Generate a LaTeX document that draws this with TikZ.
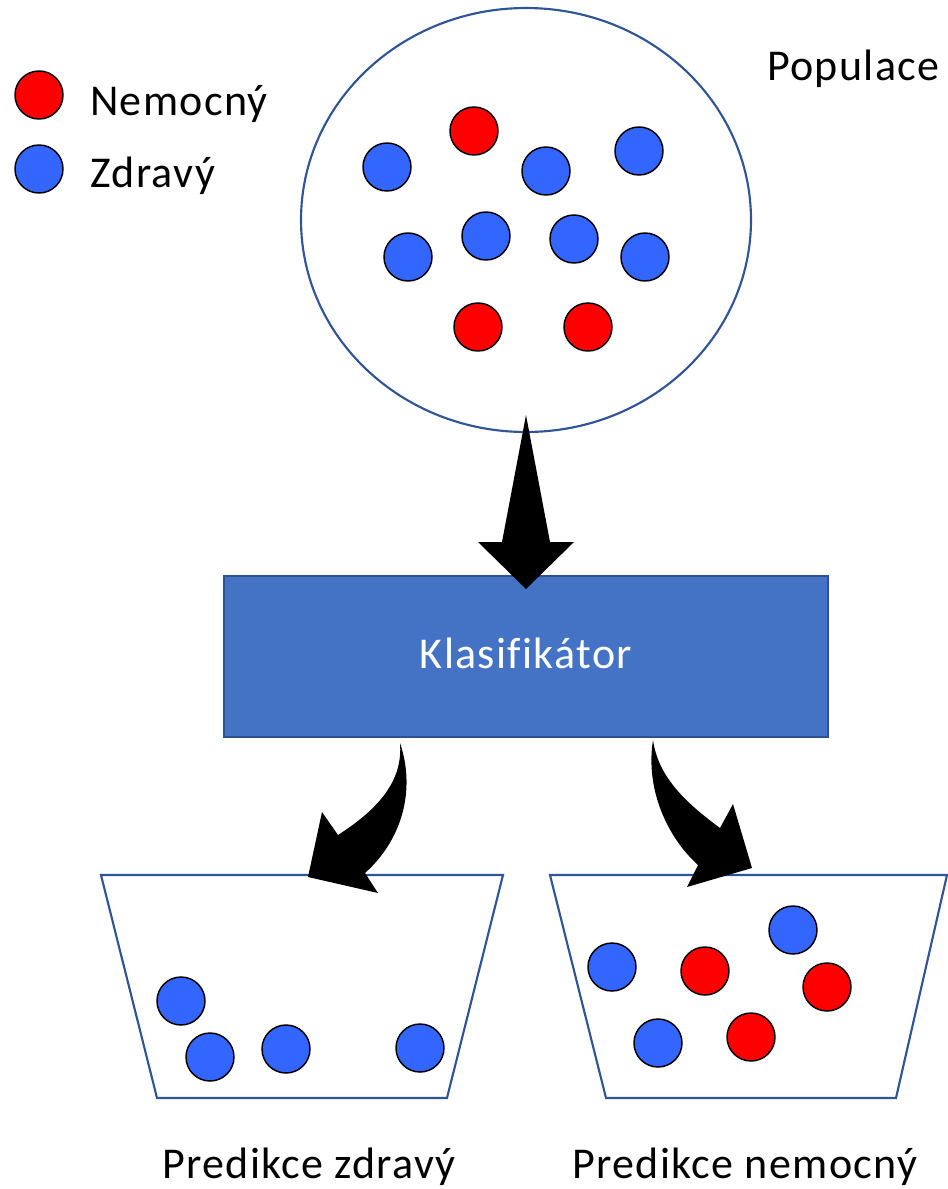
\documentclass[tikz,border=0pt]{standalone}
\usepackage{fontspec}
\setmainfont{Carlito}[LetterSpace=3,Ligatures=NoCommon]
\usetikzlibrary{shapes.geometric}
\begin{document}
\begin{tikzpicture}[x=0.75pt,y=-0.75pt,
  ball/.style={circle,draw=black,line width=1.1pt,minimum size=36pt,inner sep=0pt},
  sick/.style={ball,fill=sickred},
  well/.style={ball,fill=wellblue},
  label/.style={inner sep=0pt,font=\fontsize{33}{39}\selectfont},
  outline/.style={draw=edgeblue,line width=1.6pt},
  bigarrow/.style={fill=black,draw=none}]
\definecolor{sickred}{HTML}{FF0000}
\definecolor{wellblue}{HTML}{3366FF}
\definecolor{edgeblue}{HTML}{2F5597}
\definecolor{boxblue}{HTML}{4472C4}
\definecolor{boxedge}{HTML}{2F528F}
\useasboundingbox (0,0) rectangle (948,1189);

% legend
\node[sick] (legsick) at (39,95) {};
\node[well] (legwell) at (39,169) {};
\node[label,anchor=base west] (legsicktxt) at (90,115) {Nemocný};
\node[label,anchor=base west] (legwelltxt) at (90,187) {Zdravý};

% population
\node[outline,ellipse,minimum width=337.5pt,minimum height=318pt,inner sep=0pt] (pop) at (526,220) {};
\node[label,anchor=base west] (poptxt) at (767,80) {Populace};
\node[well] (p1) at (387,167) {};
\node[sick] (p2) at (474,131) {};
\node[well] (p3) at (546,171) {};
\node[well] (p4) at (639,151) {};
\node[well] (p5) at (408,257) {};
\node[well] (p6) at (486,236) {};
\node[well] (p7) at (574,239) {};
\node[well] (p8) at (645,257) {};
\node[sick] (p9) at (478,327) {};
\node[sick] (p10) at (588,327) {};

% classifier
\node[draw=boxedge,fill=boxblue,line width=1.2pt,minimum width=453pt,minimum height=120.75pt,inner sep=0pt] (clf) at (526,656.5) {};
\node[label,text=white,anchor=base] (clftxt) at (526,668) {Klasifikátor};

% down arrow into the classifier
\fill[bigarrow] (526,415) -- (550,542) -- (574,542) -- (526,589) -- (478,542) -- (502,542) -- cycle;

% buckets
\draw[outline,line join=miter] (101,875) -- (503,875) -- (447,1098) -- (157,1098) -- cycle;
\draw[outline,line join=miter] (550,875) -- (947,875) -- (896,1098) -- (606,1098) -- cycle;

% curved arrows to the buckets
\fill[bigarrow] (400,743) .. controls (416,790) and (402,840) .. (365,873)
  -- (378,893) -- (308,877) -- (322,812) -- (338,835)
  .. controls (380,808) and (403,780) .. (400,743) -- cycle;
\fill[bigarrow] (653,740) .. controls (645,790) and (668,838) .. (698,865)
  -- (687,887) -- (752,868) -- (733,804) -- (720,828)
  .. controls (682,800) and (658,775) .. (653,740) -- cycle;

% predicted healthy
\node[well] (h1) at (181,1001) {};
\node[well] (h2) at (210,1057) {};
\node[well] (h3) at (286,1049) {};
\node[well] (h4) at (420,1048) {};
\node[label,anchor=base west] (htxt) at (162,1178) {Predikce zdravý};

% predicted sick
\node[well] (s1) at (612,967) {};
\node[sick] (s2) at (705,971) {};
\node[well] (s3) at (793,930) {};
\node[sick] (s4) at (827,987) {};
\node[well] (s5) at (658,1043) {};
\node[sick] (s6) at (751,1037) {};
\node[label,anchor=base west] (stxt) at (572,1178) {Predikce nemocný};
\end{tikzpicture}
\end{document}
